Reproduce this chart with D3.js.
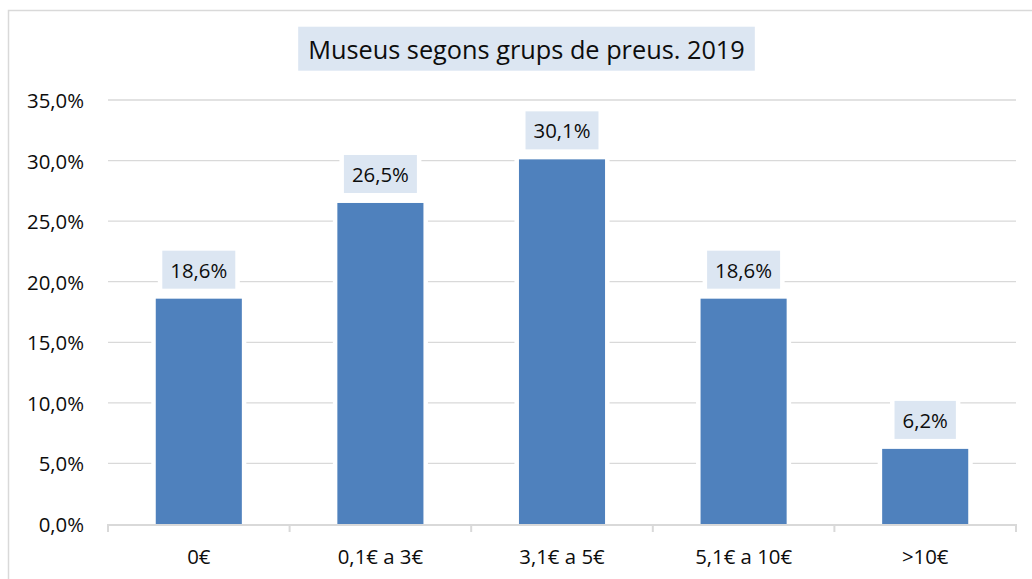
<!DOCTYPE html>
<html>
<head>
<meta charset="utf-8">
<script src="https://cdn.jsdelivr.net/npm/d3@7"></script>
<style>
  html, body { margin: 0; padding: 0; background: #fff; }
  svg { display: block; font-family: "Open Sans", Lato, sans-serif; }
</style>
</head>
<body>
<svg id="chart" width="1032" height="579"></svg>
<script>
const title = "Museus segons grups de preus. 2019";
const categories = ["0€", "0,1€ a 3€", "3,1€ a 5€", "5,1€ a 10€", ">10€"];
const values = [18.6, 26.5, 30.1, 18.6, 6.2];
const valueLabels = ["18,6%", "26,5%", "30,1%", "18,6%", "6,2%"];
const yTicks = [0, 5, 10, 15, 20, 25, 30, 35];
const yTickLabels = ["0,0%", "5,0%", "10,0%", "15,0%", "20,0%", "25,0%", "30,0%", "35,0%"];

const svg = d3.select("#chart");
const W = 1032, H = 579;
const plot = { left: 108, right: 1016, top: 100, bottom: 524 };
const gridColor = "#D9D9D9";
const barColor = "#4F81BD";
const boxColor = "#DCE6F2";
const textColor = "#0d0d0d";

// fit font sizes to the reference text widths
function fitSize(str, targetWidth) {
  const t = svg.append("text").attr("font-size", 100).text(str);
  const w = t.node().getComputedTextLength();
  t.remove();
  return 100 * targetWidth / w;
}
const fs = fitSize("35,0%", 57);
const titleFs = fitSize(title, 437);

// outer chart border (left + top)
svg.append("path")
  .attr("d", `M8.5,${H} L8.5,10.5 L${W},10.5`)
  .attr("fill", "none").attr("stroke", gridColor).attr("stroke-width", 1.5);

const x = d3.scaleBand().domain(categories)
  .range([plot.left, plot.right]).paddingInner(0.526).paddingOuter(0.263);
const y = d3.scaleLinear().domain([0, 35]).range([plot.bottom, plot.top]);

// gridlines
svg.append("g").selectAll("line").data(yTicks.filter(d => d > 0)).join("line")
  .attr("x1", plot.left).attr("x2", plot.right)
  .attr("y1", d => y(d)).attr("y2", d => y(d))
  .attr("stroke", gridColor).attr("stroke-width", 1.3);

// y tick labels
svg.append("g").selectAll("text").data(yTicks).join("text")
  .attr("x", 84).attr("y", d => y(d))
  .attr("text-anchor", "end").attr("dominant-baseline", "central")
  .attr("font-size", fs).attr("fill", textColor)
  .text((d, i) => yTickLabels[i]);

// bars
svg.append("g").selectAll("rect").data(values).join("rect")
  .attr("x", (d, i) => x(categories[i]))
  .attr("width", x.bandwidth())
  .attr("y", d => y(d))
  .attr("height", d => y(0) - y(d))
  .attr("fill", barColor)
  .attr("stroke", "#fff").attr("stroke-width", 9)
  .style("paint-order", "stroke");

// x axis line & ticks
const axis = svg.append("g");
axis.append("line")
  .attr("x1", plot.left).attr("x2", plot.right)
  .attr("y1", y(0) + 1).attr("y2", y(0) + 1)
  .attr("stroke", gridColor).attr("stroke-width", 2);
const bounds = categories.map(c => x(c) - x.step() * x.paddingInner() / 2).concat([plot.right]);
axis.selectAll("line.tick").data(bounds).join("line").attr("class", "tick")
  .attr("x1", d => d).attr("x2", d => d)
  .attr("y1", y(0)).attr("y2", y(0) + 8)
  .attr("stroke", gridColor).attr("stroke-width", 2);

// category labels
svg.append("g").selectAll("text").data(categories).join("text")
  .attr("x", d => x(d) + x.bandwidth() / 2).attr("y", 556)
  .attr("text-anchor", "middle").attr("dominant-baseline", "central")
  .attr("font-size", fs).attr("fill", textColor)
  .text(d => d);

// data labels with boxes
const lbl = svg.append("g").selectAll("g").data(values).join("g");
lbl.each(function (d, i) {
  const g = d3.select(this);
  const cx = x(categories[i]) + x.bandwidth() / 2;
  const bottom = y(d) - 10;
  const t = g.append("text")
    .attr("x", cx).attr("y", bottom - 19)
    .attr("text-anchor", "middle").attr("dominant-baseline", "central")
    .attr("font-size", fs).attr("fill", textColor)
    .text(valueLabels[i]);
  const w = t.node().getComputedTextLength() + 16;
  g.insert("rect", "text")
    .attr("x", cx - w / 2).attr("y", bottom - 38)
    .attr("width", w).attr("height", 38)
    .attr("fill", boxColor)
    .attr("stroke", "#fff").attr("stroke-width", 9)
    .style("paint-order", "stroke");
});

// title
const tg = svg.append("g");
const tt = tg.append("text")
  .attr("x", 526.5).attr("y", 48.7)
  .attr("text-anchor", "middle").attr("dominant-baseline", "central")
  .attr("font-size", titleFs).attr("fill", textColor)
  .text(title);
const tw = tt.node().getComputedTextLength() + 20;
tg.insert("rect", "text")
  .attr("x", 526.5 - tw / 2).attr("y", 26.7)
  .attr("width", tw).attr("height", 44)
  .attr("fill", boxColor);
</script>
</body>
</html>
